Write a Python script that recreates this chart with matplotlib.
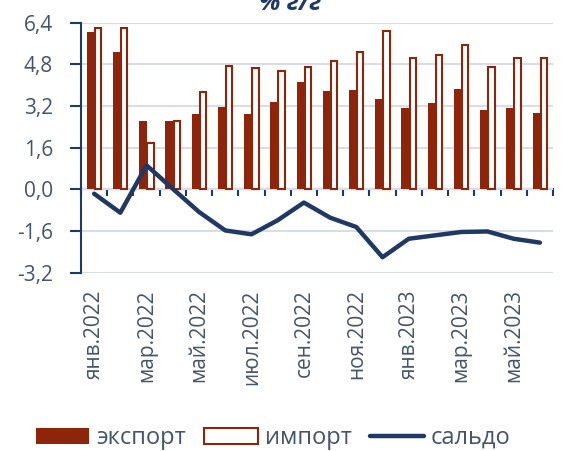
import matplotlib.pyplot as plt
import numpy as np

months = ['янв.2022', 'фев.2022', 'мар.2022', 'апр.2022', 'май.2022', 'июн.2022',
          'июл.2022', 'авг.2022', 'сен.2022', 'окт.2022', 'ноя.2022', 'дек.2022',
          'янв.2023', 'фев.2023', 'мар.2023', 'апр.2023', 'май.2023', 'июн.2023']
export = [6.03, 5.29, 2.63, 2.61, 2.90, 3.15, 2.90, 3.34, 4.14, 3.79, 3.82, 3.48,
          3.12, 3.32, 3.84, 3.03, 3.12, 2.94]
imprt = [6.21, 6.21, 1.76, 2.61, 3.75, 4.74, 4.66, 4.56, 4.68, 4.91, 5.29, 6.09,
         5.06, 5.17, 5.56, 4.70, 5.06, 5.05]
saldo = [-0.17, -0.90, 0.92, 0.02, -0.87, -1.58, -1.73, -1.19, -0.51, -1.09, -1.45, -2.61,
         -1.90, -1.77, -1.64, -1.62, -1.90, -2.05]
yticks = [-3.2, -1.6, 0.0, 1.6, 3.2, 4.8, 6.4]

red = '#8E2409'
navy = '#203864'
txt = '#44546A'
grid = '#D9DEE6'

plt.rcParams['font.family'] = ['Open Sans', 'DejaVu Sans']

fig = plt.figure(figsize=(5.64, 4.51), dpi=100)
ax = fig.add_axes([0.1436, 0.3956, 0.8369, 0.5541])

x = np.arange(len(months))
w = 0.28
b1 = ax.bar(x - 0.14, export, width=w, color=red, label='экспорт', zorder=3)
b2 = ax.bar(x + 0.15, imprt, width=w - 0.04, color='white', edgecolor=red, linewidth=1.5,
            label='импорт', zorder=3)
l1, = ax.plot(x, saldo, color=navy, lw=3.2, solid_capstyle='round', label='сальдо', zorder=4)

ax.set_xlim(-0.5, len(months) - 0.5)
ax.set_ylim(-3.2, 6.4)
ax.set_yticks(yticks)
ax.set_yticklabels([f'{v:.1f}'.replace('.', ',') for v in yticks], fontsize=15, color=txt)
ax.yaxis.grid(True, color=grid, lw=1.5, zorder=0)
ax.tick_params(axis='y', length=8, width=1.5, color=navy, pad=12)

ax.set_xticks(x[::2])
ax.set_xticklabels(months[::2], rotation=90, fontsize=15, color=txt)
ax.tick_params(axis='x', length=0, pad=12)

for s in ['top', 'right', 'bottom']:
    ax.spines[s].set_visible(False)
ax.spines['left'].set_color(navy)
ax.spines['left'].set_linewidth(1.5)

# ось x на уровне нуля
sec = ax.secondary_xaxis(3.2 / 9.6)
sec.set_xticks(np.arange(-0.5, len(months), 1.0))
sec.set_xticklabels([])
sec.tick_params(direction='out', length=5, width=1.5, color=navy)
sec.spines['bottom'].set_color(navy)
sec.spines['bottom'].set_linewidth(1.5)

leg = fig.legend([b1, b2, l1], ['экспорт', 'импорт', 'сальдо'], loc='center',
                 bbox_to_anchor=(0.484, 0.029), ncol=3, frameon=False,
                 fontsize=17, handlelength=2.25, handleheight=0.65, handletextpad=0.3,
                 columnspacing=0.8, borderaxespad=0)
for t in leg.get_texts():
    t.set_color(txt)

fig.text(0.515, 1 - 10 / 451, '% г/г', ha='center', va='baseline', fontsize=18,
         fontweight='bold', fontstyle='italic', color=navy)

fig.savefig('out.png', dpi=100)
